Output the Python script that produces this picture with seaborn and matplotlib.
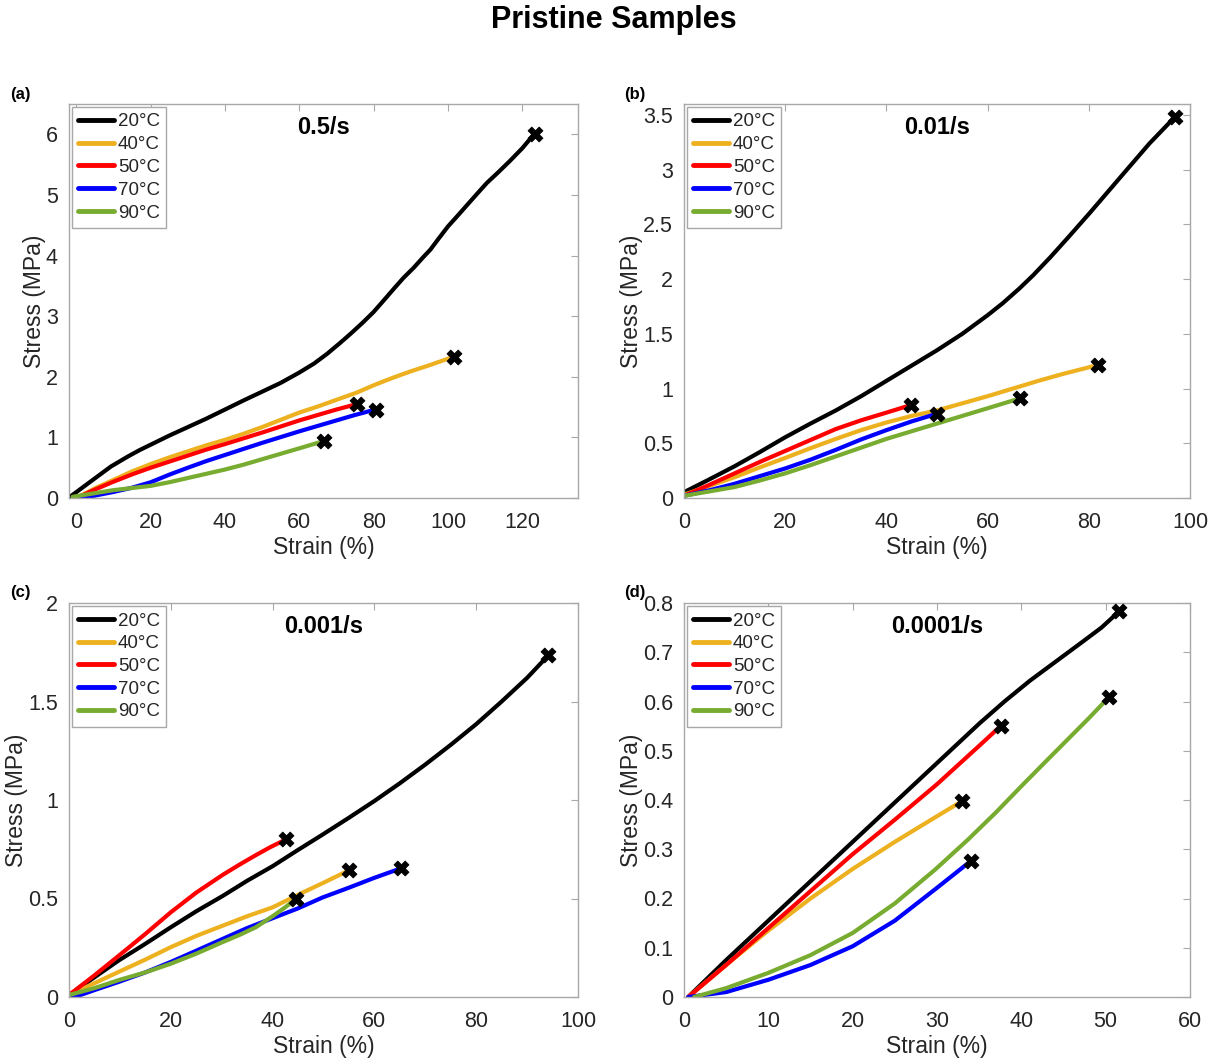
import matplotlib
matplotlib.use("Agg")
import matplotlib.pyplot as plt
import seaborn as sns
import numpy as np
from matplotlib.ticker import FuncFormatter, MultipleLocator

# ---------------- data ----------------
TEMPS = ["20°C", "40°C", "50°C", "70°C", "90°C"]
COLORS = ["#000000", "#EDB120", "#FF0000", "#0000FF", "#77AC30"]
RATES = ["0.5/s", "0.01/s", "0.001/s", "0.0001/s"]
PANEL_TAGS = ["(a)", "(b)", "(c)", "(d)"]

# (a) 0.5/s
a_x20 = [-1.5, 4, 9.3, 14, 17, 20, 25, 30, 35, 40, 45, 49.5, 55, 60, 64, 67.5, 71, 73.8, 77, 80, 83, 85.4, 88, 90.8, 93, 95.3, 97.5, 100, 102.5, 105.1, 108, 110.5, 113.3, 116.5, 120, 123.3]
a_y20 = [0.03, 0.28, 0.52, 0.69, 0.79, 0.88, 1.03, 1.17, 1.31, 1.46, 1.61, 1.74, 1.90, 2.07, 2.22, 2.38, 2.56, 2.71, 2.89, 3.07, 3.28, 3.45, 3.63, 3.80, 3.95, 4.10, 4.28, 4.48, 4.65, 4.83, 5.03, 5.20, 5.36, 5.55, 5.77, 6.01]
a_x40 = [0, 5, 10, 15, 20, 25, 30, 35, 40, 45, 50, 55, 60, 65, 70, 75.5, 80, 85, 90, 95, 101.5]
a_y40 = [0.0, 0.16, 0.30, 0.44, 0.56, 0.67, 0.77, 0.87, 0.96, 1.06, 1.17, 1.29, 1.41, 1.51, 1.62, 1.74, 1.86, 1.98, 2.09, 2.19, 2.33]
a_x50 = [0, 5, 10, 15, 20, 25, 30, 35, 40, 45, 50, 55, 60, 65, 70, 75.5]
a_y50 = [0.0, 0.14, 0.27, 0.39, 0.50, 0.60, 0.70, 0.80, 0.89, 0.985, 1.08, 1.18, 1.28, 1.37, 1.46, 1.55]
a_x70 = [0.5, 5, 10, 15, 20, 25, 30, 35, 40, 45, 50, 55, 60, 65, 70, 75, 80.5]
a_y70 = [0.0, 0.04, 0.10, 0.17, 0.26, 0.385, 0.50, 0.61, 0.71, 0.81, 0.91, 1.005, 1.10, 1.19, 1.28, 1.37, 1.46]
a_x90 = [-1, 5, 10, 15, 20, 25, 30, 35, 40, 45, 50, 55, 60, 66.6]
a_y90 = [0.02, 0.08, 0.13, 0.165, 0.20, 0.26, 0.33, 0.40, 0.47, 0.55, 0.64, 0.73, 0.82, 0.94]

# (b) 0.01/s
b_x20 = [0, 5, 10, 15, 20, 25, 30, 35, 40, 45, 50, 55, 60, 63, 66.3, 69, 72.4, 76, 80.2, 84, 87.9, 92, 97]
b_y20 = [0.053, 0.17, 0.29, 0.42, 0.555, 0.68, 0.80, 0.93, 1.07, 1.21, 1.35, 1.50, 1.67, 1.78, 1.915, 2.035, 2.20, 2.385, 2.605, 2.81, 3.02, 3.24, 3.48]
b_x40 = [0, 5, 10, 15, 20, 25, 30, 35, 40, 45, 50, 55, 60, 65, 70, 75, 81.8]
b_y40 = [0.03, 0.11, 0.19, 0.28, 0.366, 0.455, 0.54, 0.62, 0.69, 0.75, 0.80, 0.865, 0.93, 1.00, 1.07, 1.135, 1.215]
b_x50 = [0, 5, 10, 15, 20, 25, 30, 35, 40, 44.9]
b_y50 = [0.02, 0.12, 0.225, 0.33, 0.43, 0.53, 0.63, 0.71, 0.78, 0.85]
b_x70 = [0, 5, 10, 15, 20, 25, 30, 35, 40, 45, 50]
b_y70 = [0.02, 0.07, 0.13, 0.20, 0.27, 0.35, 0.44, 0.535, 0.62, 0.70, 0.77]
b_x90 = [0, 5, 10, 15, 20, 25, 30, 35, 40, 45, 50, 55, 60, 66.4]
b_y90 = [0.02, 0.06, 0.10, 0.16, 0.225, 0.30, 0.38, 0.46, 0.54, 0.61, 0.68, 0.75, 0.82, 0.91]

# (c) 0.001/s
c_x20 = [0, 5, 9.8, 15, 20, 25, 30.2, 35, 40, 44.9, 49.8, 55, 60, 65, 70, 75, 80, 85, 90, 94.2]
c_y20 = [0.01, 0.10, 0.186, 0.27, 0.354, 0.435, 0.513, 0.59, 0.664, 0.745, 0.824, 0.91, 0.995, 1.085, 1.18, 1.28, 1.385, 1.50, 1.62, 1.735]
c_x40 = [0, 5, 9.8, 15, 20, 25, 30.2, 35, 40, 45.9, 50, 55]
c_y40 = [0.01, 0.07, 0.128, 0.19, 0.253, 0.31, 0.362, 0.41, 0.455, 0.53, 0.58, 0.643]
c_x50 = [0, 5, 9.8, 15, 20, 25, 30.2, 33.5, 36.7, 39.5, 42.6]
c_y50 = [0.01, 0.11, 0.21, 0.32, 0.43, 0.53, 0.62, 0.672, 0.72, 0.76, 0.80]
c_x70 = [0, 5, 9.8, 15, 20, 25, 30.2, 35, 40, 45, 49.8, 55, 60, 65.2]
c_y70 = [-0.01, 0.035, 0.077, 0.125, 0.178, 0.235, 0.295, 0.35, 0.40, 0.45, 0.505, 0.555, 0.605, 0.653]
c_x90 = [0, 5, 9.8, 15, 20, 25, 30.2, 33.5, 36.7, 40, 42.3, 44.6]
c_y90 = [0.01, 0.045, 0.086, 0.125, 0.169, 0.22, 0.279, 0.315, 0.354, 0.41, 0.452, 0.497]

# (d) 0.0001/s
d_x20 = [0.5, 5, 10, 15, 20, 25, 30, 35, 38, 41, 44, 47, 49.5, 51.6]
d_y20 = [0.0, 0.075, 0.155, 0.235, 0.315, 0.395, 0.475, 0.555, 0.60, 0.642, 0.68, 0.718, 0.75, 0.783]
d_x40 = [0.5, 5, 10, 15, 20, 25, 29.8, 33.0]
d_y40 = [0.0, 0.065, 0.135, 0.20, 0.26, 0.315, 0.365, 0.398]
d_x50 = [0.5, 5, 10, 15, 20, 25, 30, 35, 37.6]
d_y50 = [0.0, 0.065, 0.14, 0.215, 0.29, 0.36, 0.432, 0.51, 0.551]
d_x70 = [0.5, 5, 10, 15, 20, 25, 29.8, 34.0]
d_y70 = [0.0, 0.01, 0.035, 0.065, 0.103, 0.155, 0.219, 0.276]
d_x90 = [1.2, 5, 10, 15, 20, 25, 29.8, 33.7, 37, 40, 43, 45.5, 48, 50.4]
d_y90 = [0.0, 0.018, 0.049, 0.085, 0.13, 0.19, 0.259, 0.32, 0.375, 0.428, 0.48, 0.523, 0.566, 0.609]

# axis settings per panel
XLIMS = [(-2, 135), (0, 100), (0, 100), (0, 60)]
YLIMS = [(0, 6.5), (0, 3.6), (0, 2.0), (0, 0.8)]
XSTEPS = [20, 20, 20, 10]
YSTEPS = [1, 0.5, 0.5, 0.1]

PANELS = [
    [(a_x20, a_y20), (a_x40, a_y40), (a_x50, a_y50), (a_x70, a_y70), (a_x90, a_y90)],
    [(b_x20, b_y20), (b_x40, b_y40), (b_x50, b_y50), (b_x70, b_y70), (b_x90, b_y90)],
    [(c_x20, c_y20), (c_x40, c_y40), (c_x50, c_y50), (c_x70, c_y70), (c_x90, c_y90)],
    [(d_x20, d_y20), (d_x40, d_y40), (d_x50, d_y50), (d_x70, d_y70), (d_x90, d_y90)],
]

# ---------------- style ----------------
sns.set_theme(style="white")
plt.rcParams["font.family"] = ["Liberation Sans", "DejaVu Sans"]
SPINE = "#a8a8a8"
TXT = "#262626"

W, H = 1215, 1062
fig = plt.figure(figsize=(W / 100, H / 100), dpi=100)

# axes boxes in pixels: left, right, top, bottom
BOXES = [(69, 578, 104, 498), (684, 1190, 104, 498), (69, 578, 603, 997), (684, 1190, 603, 997)]
TAG_POS = [(10, 94), (624, 94), (10, 593), (624, 593)]

fmt = FuncFormatter(lambda v, p: f"{round(v, 6):g}")

for i, (l, r, t, b) in enumerate(BOXES):
    ax = fig.add_axes([l / W, 1 - b / H, (r - l) / W, (b - t) / H])
    for (xs, ys), lab, col in zip(PANELS[i], TEMPS, COLORS):
        sns.lineplot(x=xs, y=ys, color=col, lw=3, label=lab, sort=False,
                     estimator=None, ax=ax, zorder=2)
    for (xs, ys) in PANELS[i]:
        sns.scatterplot(x=[xs[-1]], y=[ys[-1]], marker="X", s=115, color="black",
                        edgecolor="black", linewidth=0.6, legend=False, ax=ax, zorder=5)
    ax.set_xlim(*XLIMS[i])
    ax.set_ylim(*YLIMS[i])
    ax.xaxis.set_major_locator(MultipleLocator(XSTEPS[i]))
    ax.yaxis.set_major_locator(MultipleLocator(YSTEPS[i]))
    ax.xaxis.set_major_formatter(fmt)
    ax.yaxis.set_major_formatter(fmt)
    ax.tick_params(direction="in", top=True, right=True, length=5, width=0.8,
                   color=SPINE, labelcolor=TXT, labelsize=15.5)
    ax.tick_params(axis="x", pad=10)
    ax.tick_params(axis="y", pad=8)
    for s in ax.spines.values():
        s.set_color(SPINE)
        s.set_linewidth(1.0)
    ax.set_xlabel("Strain (%)", fontsize=16.5, color=TXT, labelpad=2)
    ax.set_ylabel("Stress (MPa)", fontsize=16.5, color=TXT, labelpad=0)
    leg = ax.legend(loc="upper left", fontsize=13.5, frameon=True, fancybox=False,
                    handlelength=1.9, handletextpad=0.2, labelspacing=0.3,
                    borderpad=0.35, borderaxespad=0.15)
    leg.get_frame().set_edgecolor(SPINE)
    leg.get_frame().set_linewidth(1.0)
    leg.get_frame().set_alpha(1)
    for line in leg.get_lines():
        line.set_linewidth(3.5)
    ax.text(0.5, 0.94, RATES[i], transform=ax.transAxes, ha="center", va="center",
            fontsize=17, fontweight="bold", color="black")
    fig.text(TAG_POS[i][0] / W, 1 - TAG_POS[i][1] / H, PANEL_TAGS[i], ha="left",
             va="center", fontsize=12, fontweight="bold", color="black")

fig.text(614 / W, 1 - 20 / H, "Pristine Samples", ha="center", va="center",
         fontsize=22, fontweight="bold", color="black")

fig.savefig("out.png", dpi=100)
